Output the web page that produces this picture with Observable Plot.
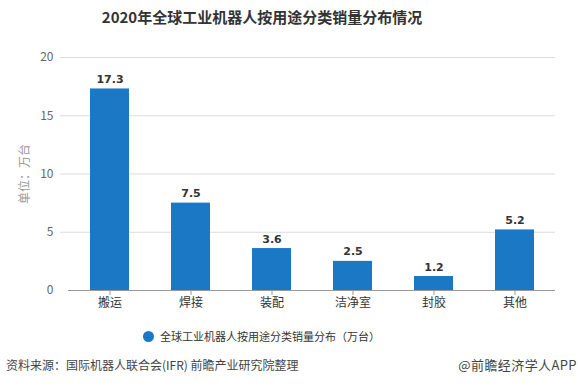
<!DOCTYPE html>
<html><head><meta charset="utf-8">
<script src="https://cdn.jsdelivr.net/npm/d3@7"></script>
<script src="https://cdn.jsdelivr.net/npm/@observablehq/plot@0.6"></script>
<style>
body{margin:0;background:#fff;font-family:"Noto Sans CJK SC","Noto Sans",sans-serif;}
#wrap{position:relative;width:578px;height:392px;overflow:hidden;background:#fff;}
#title{position:absolute;left:0;width:524px;top:6px;text-align:center;font-size:15px;font-weight:bold;color:#333;}
#chart{position:absolute;left:0;top:36px;}
#legend{position:absolute;left:143px;top:328px;font-size:11px;color:#333;display:flex;align-items:center;}
#legend .dot{width:11px;height:11px;border-radius:50%;background:#1a78c5;margin-right:6px;}
#src{position:absolute;left:6px;top:356px;font-size:12px;color:#444;}
#app{position:absolute;right:1px;top:355px;font-size:13px;color:#444;letter-spacing:0.4px;}
</style></head>
<body><div id="wrap">
<div id="title"></div>
<div id="chart"></div>
<div id="legend"><span class="dot"></span><span id="legendText"></span></div>
<div id="src"></div>
<div id="app"></div>
</div>
<script>
const titleText = "2020年全球工业机器人按用途分类销量分布情况";
const categories = ["搬运", "焊接", "装配", "洁净室", "封胶", "其他"];
const values = [17.3, 7.5, 3.6, 2.5, 1.2, 5.2];
const yTicks = [0, 5, 10, 15, 20];
const yLabel = "单位：万台";
const seriesName = "全球工业机器人按用途分类销量分布（万台）";
const sourceText = "资料来源：国际机器人联合会(IFR) 前瞻产业研究院整理";
const brandText = "@前瞻经济学人APP";

const data = categories.map((c, i) => ({cat: c, value: values[i]}));
const blue = "#1a78c5";

document.getElementById("title").textContent = titleText;
document.getElementById("legendText").textContent = seriesName;
document.getElementById("src").textContent = sourceText;
document.getElementById("app").textContent = brandText;

const plot = Plot.plot({
  width: 578,
  height: 280,
  marginTop: 21,
  marginBottom: 26,
  marginLeft: 60,
  marginRight: 23,
  style: {fontFamily: '"Noto Sans CJK SC","Noto Sans",sans-serif', background: "transparent"},
  x: {domain: categories, paddingInner: 0.52, paddingOuter: 0.26, insetLeft: 8, label: null},
  y: {domain: [0, 20], label: null},
  marks: [
    Plot.ruleY(yTicks.filter(d => d > 0), {stroke: "#dcdcdc", strokeWidth: 1}),
    Plot.barY(data, {x: "cat", y: "value", fill: blue}),
    Plot.ruleY([0], {stroke: "#999", strokeWidth: 1, insetLeft: 8}),
    Plot.axisX({tickSize: 5, tickPadding: 3, stroke: "#999", fontSize: 12, fill: "#333"}),
    Plot.axisY({ticks: yTicks, tickSize: 0, tickPadding: 7, fontSize: 12, fill: "#666"}),
    Plot.text(data, {x: "cat", y: "value", text: d => d.value.toFixed(1), lineAnchor: "bottom", dy: -6, fontSize: 11, fontWeight: "bold", fill: "#333", fontFamily: '"DejaVu Sans",sans-serif'}),
    Plot.text([yLabel], {frameAnchor: "left", textAnchor: "middle", dx: -35, rotate: -90, fontSize: 12, fill: "#999"})
  ]
});
document.getElementById("chart").appendChild(plot);
</script>
</body></html>
